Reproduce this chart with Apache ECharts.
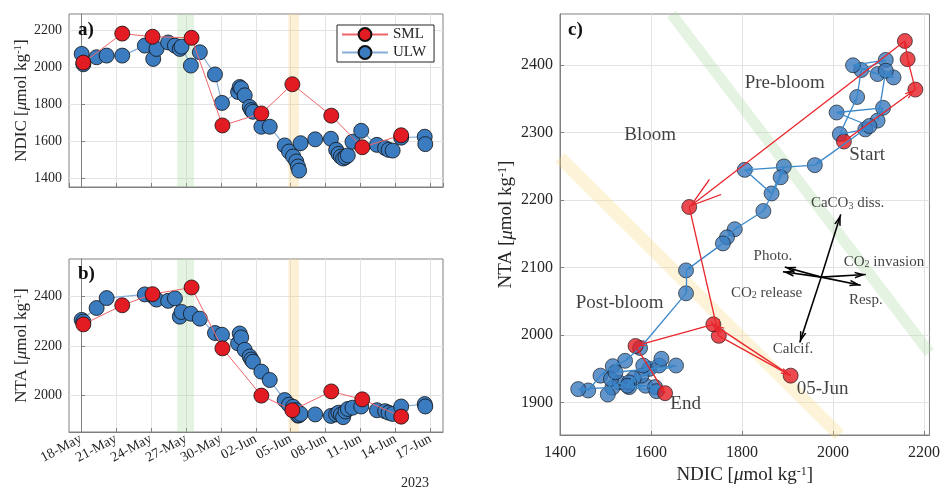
<!DOCTYPE html>
<html><head><meta charset="utf-8">
<script src="https://cdn.jsdelivr.net/npm/echarts@6/dist/echarts.min.js"></script>
<style>html,body{margin:0;padding:0;background:#fff}#c{width:943px;height:490px}</style>
</head><body><div id="c"></div>
<script>
// ---------------- DATA ----------------
// time in days since 18-May-2023 00:00
const ulwDay  = [0.06,0.20,1.34,2.20,3.54,5.48,6.20,6.48,7.48,8.06,8.48,8.63,9.43,10.20,11.50,12.10,13.48,13.62,13.75,14.05,14.48,14.62,14.76,15.48,16.20,17.48,17.85,18.20,18.48,18.62,18.72,18.85,20.10,21.45,21.90,22.10,22.30,22.50,22.70,22.90,23.30,24.05,25.40,26.10,26.40,26.75,27.48,29.50,29.55];
const ulwNDIC = [2071,2015,2053,2062,2062,2116,2044,2098,2133,2116,2098,2110,2008,2080,1960,1806,1865,1892,1885,1847,1784,1767,1758,1677,1677,1576,1543,1516,1489,1462,1440,1588,1609,1612,1552,1530,1515,1505,1512,1522,1596,1655,1579,1562,1552,1548,1618,1623,1583];
const ulwNTA  = [2305,2298,2353,2393,null,2408,2400,2387,2382,2392,2318,2337,2330,2310,2252,2245,2210,2250,2234,2184,2157,2145,2136,2096,2062,1981,1962,1954,1940,1918,1920,1925,1923,1917,1923,1930,1922,1912,1935,1945,1950,1955,1940,1936,1930,1925,1955,1965,1955];
const smlDay  = [0.20,3.54,6.14,9.49,12.14,15.48,18.14,21.48,24.14,27.48];
const smlNDIC = [2024,2181,2164,2158,1684,1749,1907,1737,1566,1631];
const smlNTA  = [2287,2364,2409,2436,2190,1999,1940,2016,1984,1914];
const xTickLabels = ['18-May','21-May','24-May','27-May','30-May','02-Jun','05-Jun','08-Jun','11-Jun','14-Jun','17-Jun'];
const bloomBand = [8.25, 9.70];      // days
const postBand  = [17.80, 18.70];    // days
const greenLineC  = [[1645,2476],[2212,1974]];   // NDIC, NTA
const yellowLineC = [[1400,2263],[2014,1852]];
const procCenter = [1974, 2086];
const procEnd = [[1894,2101],[2061,2074],[1890,2094],[2072,2090],[1927,1989],[2017,2179]];
const annText = ['Pre-bloom','Bloom','Start','Post-bloom','End','05-Jun','CaCO{s|3} diss.','Photo.','CO{s|2} invasion','CO{s|2} release','Resp.','Calcif.'];
const annNDIC = [1894,1598,2075,1531,1676,1977,2032,1868,2112,1854,2072,1912];
const annNTA  = [2373,2296,2267,2048,1898,1920,2196,2117,2109,2063,2052,1979];

// ---------------- STYLE ----------------
const F = '"Liberation Serif","Times New Roman",serif';
const TXT = '#262626', AX = '#808080', GRIDC = '#e3e3e3';
const RED = '#e31b23', BLUE = '#3b7bbf';
const REDL = '#f0656a', BLUEL = '#86aed8';
const REDC = '#e8262c', BLUEC = '#3a87c9';

const chart = echarts.init(document.getElementById('c'));

function nameRich(fs){
  return {
    n:{fontFamily:F,fontSize:fs,color:TXT},
    mu:{fontFamily:F,fontSize:fs,fontStyle:'italic',color:TXT},
    sup:{fontFamily:F,fontSize:Math.round(fs*0.62),color:TXT,verticalAlign:'top'}
  };
}
function axName(label){ return '{n|'+label+' [}{mu|μ}{n|mol kg}{sup|-1}{n|]}'; }
const plain = v => String(Math.round(v));

function timeAxis(gi, showLabels){
  return {
    gridIndex:gi, type:'value', min:-1.03, max:31.07, splitNumber:10,
    axisLine:{show:true,lineStyle:{color:AX}},
    axisTick:{show:true,inside:true,length:4,lineStyle:{color:AX}},
    splitLine:{show:true,showMinLine:false,showMaxLine:false,lineStyle:{color:GRIDC}},
    axisLabel:{show:showLabels,rotate:28,margin:6,fontFamily:F,fontSize:14,color:TXT,
      showMinLabel:false,showMaxLabel:false,
      formatter:function(v){const i=Math.round(v/3); return Math.abs(v-3*i)<1e-6 && xTickLabels[i] ? xTickLabels[i] : '';}}
  };
}
function valAxis(gi, min, max, sn, fs, name, gap, extra){
  return Object.assign({
    gridIndex:gi, type:'value', min:min, max:max, splitNumber:sn,
    axisLine:{show:true,lineStyle:{color:AX}},
    axisTick:{show:true,inside:true,length:4,lineStyle:{color:AX}},
    splitLine:{show:true,showMinLine:false,showMaxLine:false,lineStyle:{color:GRIDC}},
    axisLabel:{fontFamily:F,fontSize:fs,color:TXT,margin:7,showMinLabel:false,showMaxLabel:false,formatter:plain},
    name:name, nameLocation:'middle', nameGap:gap,
    nameTextStyle:{rich:nameRich(fs+3)}
  }, extra||{});
}

const pxX = 373/(2212-1400), pxY = 421/(2476-1852);
function arrowSeg(x1,y1,x2,y2,k,minS,maxS,thick){
  const len = Math.hypot((x2-x1)*pxX,(y2-y1)*pxY);
  const s = Math.max(minS, Math.min(maxS, k*len));
  const w = 0.62*s;
  const d = Math.min(4, thick*10/w);
  const path = 'path://M0,10L5,0L10,10L'+(10-d).toFixed(2)+',10L5,'+(2*d).toFixed(2)+'L'+d.toFixed(2)+',10Z';
  return [{coord:[x1,y1],symbol:'none'},{coord:[x2,y2],symbol:path,symbolSize:[w,s],symbolOffset:[0,s/2]}];
}
function segments(xs, ys, k, minS, maxS, thick){
  const pts = [];
  for(let i=0;i<xs.length;i++){ if(xs[i]!=null && ys[i]!=null) pts.push([xs[i],ys[i]]); }
  const out = [];
  for(let i=1;i<pts.length;i++) out.push(arrowSeg(pts[i-1][0],pts[i-1][1],pts[i][0],pts[i][1],k,minS,maxS,thick));
  return out;
}
const zip = (a,b)=>a.map((v,i)=>[v,b[i]]);

const bandArea = {silent:true, data:[
  [{xAxis:bloomBand[0],itemStyle:{color:'rgba(168,218,158,0.30)'}},{xAxis:bloomBand[1]}],
  [{xAxis:postBand[0],itemStyle:{color:'rgba(245,205,118,0.30)'}},{xAxis:postBand[1]}]
]};

const circle = (fill)=>({color:fill,borderColor:'#111',borderWidth:0.8});

const series = [
  {name:'ULW',type:'line',xAxisIndex:0,yAxisIndex:0,data:zip(ulwDay,ulwNDIC),showAllSymbol:true,symbol:'circle',symbolSize:15,
   itemStyle:circle(BLUE),lineStyle:{color:BLUEL,width:1.2},markArea:bandArea,z:2},
  {name:'SML',type:'line',xAxisIndex:0,yAxisIndex:0,data:zip(smlDay,smlNDIC),showAllSymbol:true,symbol:'circle',symbolSize:15,
   itemStyle:circle(RED),lineStyle:{color:REDL,width:1},z:3},
  {name:'ULW',type:'line',xAxisIndex:1,yAxisIndex:1,data:zip(ulwDay,ulwNTA),connectNulls:true,showAllSymbol:true,symbol:'circle',symbolSize:15,
   itemStyle:circle(BLUE),lineStyle:{color:BLUEL,width:1.2},markArea:bandArea,z:2},
  {name:'SML',type:'line',xAxisIndex:1,yAxisIndex:1,data:zip(smlDay,smlNTA),showAllSymbol:true,symbol:'circle',symbolSize:15,
   itemStyle:circle(RED),lineStyle:{color:REDL,width:1},z:3},
  // panel c bands
  {type:'line',xAxisIndex:2,yAxisIndex:2,data:greenLineC,symbol:'none',silent:true,lineStyle:{color:'rgba(168,218,158,0.30)',width:11,cap:'butt'},z:1},
  {type:'line',xAxisIndex:2,yAxisIndex:2,data:yellowLineC,symbol:'none',silent:true,lineStyle:{color:'rgba(250,215,130,0.30)',width:13,cap:'butt'},z:1},
  // panel c circles
  {name:'ULW',type:'scatter',xAxisIndex:2,yAxisIndex:2,data:zip(ulwNDIC,ulwNTA).filter(p=>p[1]!=null),symbolSize:15,itemStyle:circle(BLUE),z:2},
  {name:'SML',type:'scatter',xAxisIndex:2,yAxisIndex:2,data:zip(smlNDIC,smlNTA),symbolSize:15,itemStyle:circle(RED),z:3},
  // panel c arrows
  {type:'scatter',xAxisIndex:2,yAxisIndex:2,data:zip(ulwNDIC,ulwNTA).filter(p=>p[1]!=null),symbol:'none',silent:true,
   markLine:{silent:true,animation:false,label:{show:false},lineStyle:{color:BLUEC,width:1.3,type:'solid'},
   data:segments(ulwNDIC,ulwNTA,0.12,5,14,1.3)}},
  {type:'scatter',xAxisIndex:2,yAxisIndex:2,data:zip(smlNDIC,smlNTA),symbol:'none',silent:true,
   markLine:{silent:true,animation:false,label:{show:false},lineStyle:{color:REDC,width:1.3,type:'solid'},
   data:segments(smlNDIC,smlNTA,0.12,7,34,1.3)}},
  // process vectors
  {type:'scatter',xAxisIndex:2,yAxisIndex:2,data:[procCenter],symbol:'none',silent:true,
   markLine:{silent:true,animation:false,label:{show:false},lineStyle:{color:'#000',width:1.6,type:'solid'},
   data:procEnd.map(e=>arrowSeg(procCenter[0],procCenter[1],e[0],e[1],0,11,11,1.6))}},
  // annotations
  {type:'scatter',xAxisIndex:2,yAxisIndex:2,symbolSize:1,silent:true,itemStyle:{color:'rgba(0,0,0,0)'},z:6,
   data:annText.map((t,i)=>({value:[annNDIC[i],annNTA[i]],label:{show:true,position:'inside',formatter:t,
     fontFamily:F,fontSize:i<6?19:15,color:'#111',
     rich:{s:{fontFamily:F,fontSize:i<6?12:10,color:'#111',verticalAlign:'bottom',padding:[6,0,0,0]}}}}))}
];

chart.setOption({
  animation:false,
  backgroundColor:'#fff',
  grid:[
    {left:69,top:14,width:374,height:173,show:true,borderColor:AX,borderWidth:1,backgroundColor:'transparent'},
    {left:69,top:259,width:374,height:173,show:true,borderColor:AX,borderWidth:1,backgroundColor:'transparent'},
    {left:560,top:14,width:373,height:421,show:true,borderColor:AX,borderWidth:1,backgroundColor:'transparent'}
  ],
  xAxis:[
    timeAxis(0,false),
    timeAxis(1,true),
    valAxis(2,1400,2212,4,16,axName('NDIC'),28,{axisLabel:{fontFamily:F,fontSize:16,color:TXT,margin:10,showMinLabel:true,showMaxLabel:false,formatter:plain}})
  ],
  yAxis:[
    valAxis(0,1351,2287,4,14,axName('NDIC'),37),
    valAxis(1,1852,2551,3,14,axName('NTA'),37),
    valAxis(2,1852,2476,6,16,axName('NTA'),44)
  ],
  legend:{data:['SML','ULW'],orient:'vertical',left:337,top:25,itemWidth:46,itemHeight:16,itemGap:3,
    padding:[2,8,2,4],borderColor:'#262626',borderWidth:1,backgroundColor:'#fff',borderRadius:0,
    textStyle:{fontFamily:F,fontSize:15,color:TXT}},
  graphic:[
    {type:'text',left:78,top:21,style:{text:'a)',font:'bold 19px "Liberation Serif"',fill:'#111'},z:10},
    {type:'text',left:78,top:265,style:{text:'b)',font:'bold 19px "Liberation Serif"',fill:'#111'},z:10},
    {type:'text',left:568,top:21,style:{text:'c)',font:'bold 19px "Liberation Serif"',fill:'#111'},z:10},
    {type:'text',left:401,top:476,style:{text:'2023',font:'14px "Liberation Serif"',fill:TXT},z:10}
  ],
  series:series
});
</script></body></html>
